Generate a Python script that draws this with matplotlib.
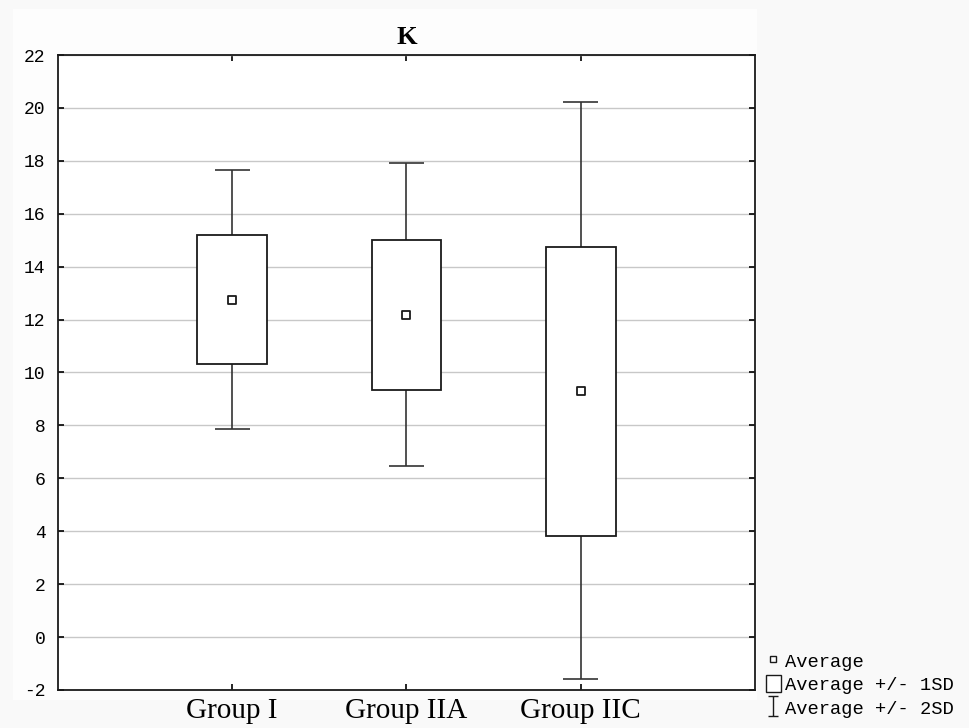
import matplotlib.pyplot as plt
from matplotlib.lines import Line2D
from matplotlib.patches import Rectangle
from matplotlib.path import Path
import numpy as np

plt.rcParams['axes.unicode_minus'] = False

# datos
grupos = ['Group I', 'Group IIA', 'Group IIC']
media = [12.74, 12.17, 9.30]
sd1_sup = [15.20, 15.00, 14.74]
sd1_inf = [10.32, 9.34, 3.82]
sd2_sup = [17.65, 17.92, 20.22]
sd2_inf = [7.87, 6.47, -1.58]
yticks = list(range(-2, 23, 2))
etiquetas = ['Average', 'Average +/- 1SD', 'Average +/- 2SD']

fig = plt.figure(figsize=(9.7, 7.28), dpi=100, facecolor='#f9f9f9')
# zona blanca detras del grafico
fig.patches.append(Rectangle((13/970, 1-700/728), (757-13)/970, (700-9)/728,
                             transform=fig.transFigure, facecolor='#fdfdfd',
                             edgecolor='none', zorder=-1))
ax = fig.add_axes([58/970, 1-690/728, 697/970, 635/728])
ax.set_facecolor('white')

pos = np.arange(1, len(grupos) + 1)
ancho = 0.4
tapa = 0.2

ax.set_axisbelow(True)
ax.yaxis.grid(True, color='#c8c8c8', lw=1)

# cajas +/- 1SD
ax.bar(pos, np.array(sd1_sup) - np.array(sd1_inf), bottom=sd1_inf, width=ancho,
       facecolor='white', edgecolor='#1a1a1a', lw=1.3, zorder=3)
# bigotes +/- 2SD
ax.vlines(pos, sd1_sup, sd2_sup, color='#333333', lw=1.2, zorder=2)
ax.vlines(pos, sd2_inf, sd1_inf, color='#333333', lw=1.2, zorder=2)
ax.hlines(sd2_sup, pos - tapa/2, pos + tapa/2, color='#333333', lw=1.2, zorder=2)
ax.hlines(sd2_inf, pos - tapa/2, pos + tapa/2, color='#333333', lw=1.2, zorder=2)
# medias
ax.scatter(pos, media, marker='s', s=30, facecolor='white', edgecolor='#1a1a1a',
           lw=1.3, zorder=4)

ax.set_xlim(0, 4)
ax.set_ylim(-2, 22)
ax.set_yticks(yticks)
ax.set_xticks(pos)
ax.set_xticklabels(grupos, family='Liberation Serif', fontsize=21)
for t in ax.get_yticklabels():
    t.set_family('Liberation Mono')
    t.set_fontsize(13)
ax.tick_params(direction='in', length=4, top=True, right=True, width=1.2)
ax.tick_params(axis='x', pad=6)
ax.tick_params(axis='y', pad=9)
for s in ax.spines.values():
    s.set_linewidth(1.3)
    s.set_color('#1a1a1a')

ax.set_title('K', family='Liberation Serif', fontweight='bold', fontsize=19, pad=8)

# marcador tipo "I" con tapas
icono = Path([(-0.5, 1), (0.5, 1), (0, 1), (0, -1), (-0.5, -1), (0.5, -1)],
             [Path.MOVETO, Path.LINETO, Path.MOVETO, Path.LINETO, Path.MOVETO, Path.LINETO])
handles = [
    Line2D([], [], ls='none', marker='s', ms=4, mfc='white', mec='#1a1a1a', mew=1),
    Rectangle((0, 0), 1, 1, facecolor='white', edgecolor='#1a1a1a', lw=1),
    Line2D([], [], ls='none', marker=icono, ms=14, mfc='none', mec='#1a1a1a', mew=1),
]
fig.legend(handles, etiquetas, loc='upper left', bbox_to_anchor=(764/970, 1-650/728),
           frameon=False, prop={'family': 'Liberation Mono', 'size': 13.5},
           handlelength=0.8, handletextpad=0.2, labelspacing=0.25, borderaxespad=0,
           borderpad=0.1, handleheight=1.0)

plt.savefig('out.png', dpi=100, facecolor=fig.get_facecolor())
